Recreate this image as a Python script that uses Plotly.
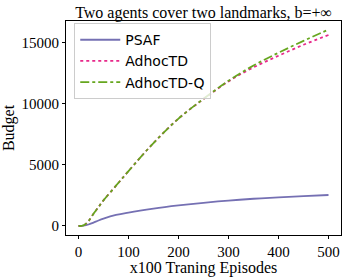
import plotly.graph_objects as go

episodes = [0, 10, 20, 30, 40, 50, 75, 100, 150, 200, 250, 300, 350, 400, 450, 500]
psaf = [0, 30, 120, 280, 450, 600, 900, 1100, 1420, 1680, 1900, 2080, 2230, 2350, 2450, 2540]
adhoctd = [0, 50, 400, 1000, 1550, 2100, 3300, 4500, 6800, 8800, 10400, 11850, 13000, 13950, 14850, 15650]
adhoctd_q = [0, 50, 400, 1000, 1550, 2100, 3300, 4500, 6800, 8800, 10420, 11900, 13150, 14200, 15170, 16100]
x_ticks = [0, 100, 200, 300, 400, 500]
y_ticks = [0, 5000, 10000, 15000]

serif = "Liberation Serif, Times New Roman, serif"
sans = "DejaVu Sans, sans-serif"

fig = go.Figure()
fig.add_trace(go.Scatter(x=episodes, y=psaf, name="PSAF", mode="lines", line_shape="spline",
                         line=dict(color="#7570b3", width=1.8)))
fig.add_trace(go.Scatter(x=episodes, y=adhoctd, name="AdhocTD", mode="lines", line_shape="spline",
                         line=dict(color="#e7298a", width=1.8, dash="dot")))
fig.add_trace(go.Scatter(x=episodes, y=adhoctd_q, name="AdhocTD-Q", mode="lines", line_shape="spline",
                         line=dict(color="#66a61e", width=1.8, dash="dashdot")))

fig.update_layout(
    width=347, height=277,
    margin=dict(l=66, r=6, t=21, b=42, autoexpand=False),
    paper_bgcolor="white", plot_bgcolor="white",
    title=dict(text="Two agents cover two landmarks, b=+∞", x=0.5865, xanchor="center",
               y=0.957, yanchor="middle", font=dict(family=serif, size=16, color="black")),
    showlegend=True,
    legend=dict(x=0.03, y=0.99, xanchor="left", yanchor="top",
                font=dict(family=sans, size=14, color="black"),
                bordercolor="#cccccc", borderwidth=1, bgcolor="rgba(255,255,255,0.8)",
                tracegroupgap=0, itemwidth=40),
    xaxis=dict(range=[-25, 525], tickvals=x_ticks, ticktext=[str(v) for v in x_ticks],
               automargin=False,
               showgrid=False, zeroline=False, showline=True, linecolor="black", linewidth=1,
               mirror=True, ticks="outside", ticklen=3, tickcolor="black",
               tickfont=dict(family=serif, size=15, color="black"),
               title=dict(text="x100 Traning Episodes", font=dict(family=serif, size=16, color="black"),
                          standoff=2)),
    yaxis=dict(range=[-740, 16800], tickvals=y_ticks, ticktext=[str(v) for v in y_ticks],
               automargin=False,
               showgrid=False, zeroline=False, showline=True, linecolor="black", linewidth=1,
               mirror=True, ticks="outside", ticklen=3, tickcolor="black",
               tickfont=dict(family=serif, size=15, color="black"),
               title=dict(text="Budget", font=dict(family=serif, size=16, color="black"),
                          standoff=4)),
)

fig.write_html("out.html", config={"displayModeBar": False},
               post_script="document.body.style.margin='0';document.body.style.padding='0';document.body.style.overflow='hidden';")
